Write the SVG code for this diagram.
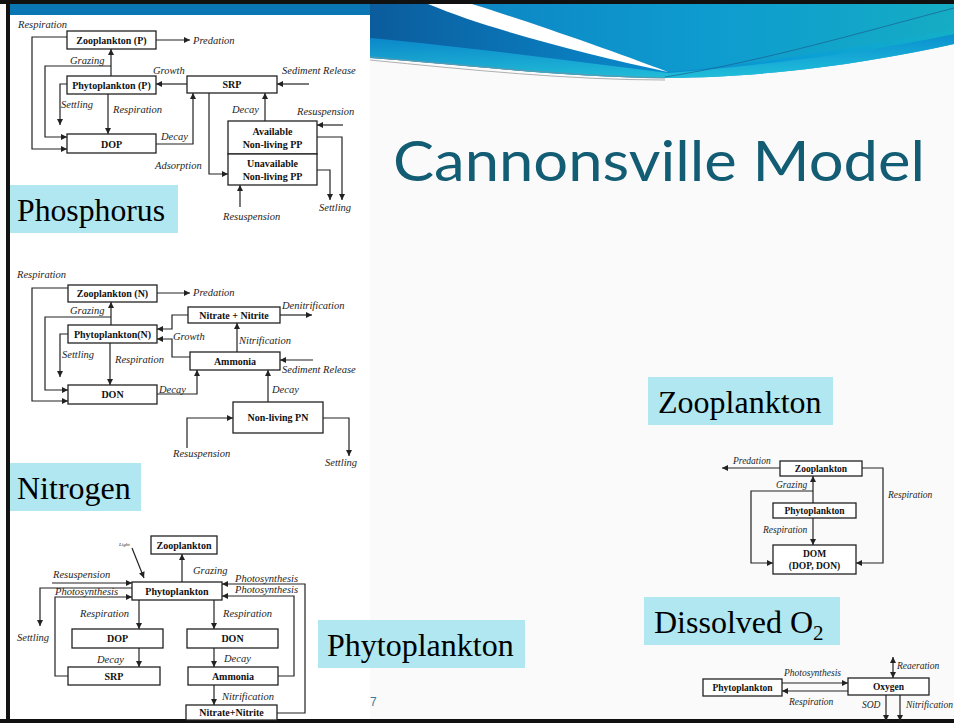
<svg xmlns="http://www.w3.org/2000/svg" width="954" height="723" viewBox="0 0 954 723">
<defs>
<style>
.bx{fill:#fff;stroke:#222;stroke-width:1.3}
.bt{font-family:"Liberation Serif",serif;font-weight:bold;font-size:10px;text-anchor:middle;fill:#111}
.lb{font-family:"Liberation Serif",serif;font-style:italic;font-size:10.5px;fill:#1e1e1e}
.sm{font-size:9.5px}
.cn path{fill:none;stroke:#222;stroke-width:1.2}
.ar{marker-end:url(#ah)}
.sec rect{fill:#b0e7f0}
.sec text{font-family:"Liberation Serif",serif;font-size:32px;fill:#000}
</style>
<marker id="ah" viewBox="0 0 10 10" refX="10" refY="5" markerWidth="7" markerHeight="6" orient="auto-start-reverse" markerUnits="userSpaceOnUse"><path d="M0,0 L10,5 L0,10 z" fill="#222"/></marker>
<linearGradient id="gb" x1="370" y1="0" x2="954" y2="0" gradientUnits="userSpaceOnUse"><stop offset="0" stop-color="#0b5c9c"/><stop offset="0.45" stop-color="#0a86c8"/><stop offset="0.75" stop-color="#0aa0d6"/><stop offset="1" stop-color="#14b0c6"/></linearGradient>
<linearGradient id="gl" x1="0" y1="38" x2="0" y2="78" gradientUnits="userSpaceOnUse"><stop offset="0" stop-color="#0a8fd2"/><stop offset="1" stop-color="#26c6da"/></linearGradient>
<linearGradient id="gt" x1="472" y1="0" x2="954" y2="0" gradientUnits="userSpaceOnUse"><stop offset="0" stop-color="#0d86c4"/><stop offset="0.5" stop-color="#0e9ccf"/><stop offset="1" stop-color="#15acc4"/></linearGradient>
</defs>

<!-- slide background -->
<rect x="0" y="0" width="954" height="723" fill="#fafafa"/>
<rect x="10" y="15" width="360" height="704" fill="#fff"/>

<!-- swoosh -->
<g id="swoosh">
<path d="M370,4 H954 V44 C890,58 790,77 665,78 C565,78 460,64 370,58 Z" fill="url(#gb)"/>
<path d="M370,38 C460,46 560,60 668,73 C780,64 880,50 954,34 V44 C890,58 790,77 665,78 C565,78 460,64 370,58 Z" fill="url(#gl)" opacity="0.85"/>
<path d="M472,4 H954 V30 C880,42 780,62 668,72 C610,50 530,22 472,4 Z" fill="url(#gt)"/>
<path d="M428,4 L472,4 C530,22 610,50 668,72 C590,55 490,30 428,4 Z" fill="#fff"/>
<path d="M665,77 C760,62 870,30 954,8" fill="none" stroke="#1a5f90" stroke-width="1" opacity="0.7"/>
<path d="M370,57 C470,66 570,76 665,78" fill="none" stroke="#5a9ab0" stroke-width="1.2"/>
<path d="M370,60 C470,70 570,80 665,80" fill="none" stroke="#b0b0b0" stroke-width="1"/>
</g>

<!-- frame -->
<rect x="0" y="0" width="954" height="4" fill="#111"/>
<rect x="10" y="4" width="360" height="11" fill="#0a77b4"/>
<rect x="6" y="0" width="4" height="723" fill="#111"/>
<rect x="0" y="719" width="954" height="4" fill="#111"/>

<text id="title" x="393" y="181" font-family="Lato, 'Liberation Sans', sans-serif" font-size="57" fill="#125c74" textLength="532" lengthAdjust="spacingAndGlyphs">Cannonsville Model</text>
<text id="page" x="370" y="706" font-family="'Liberation Sans', sans-serif" font-size="12" fill="#3a7ca0">7</text>

<!-- section labels -->
<g id="sec-phosphorus" class="sec"><rect x="10" y="185" width="168" height="48"/><text x="17" y="221" textLength="148" lengthAdjust="spacingAndGlyphs">Phosphorus</text></g>
<g id="sec-nitrogen" class="sec"><rect x="10" y="463" width="131" height="48"/><text x="17" y="499">Nitrogen</text></g>
<g id="sec-phyto" class="sec"><rect x="318" y="620" width="207" height="48"/><text x="327" y="656">Phytoplankton</text></g>
<g id="sec-zoo" class="sec"><rect x="648" y="377" width="185" height="48"/><text x="658" y="413">Zooplankton</text></g>
<g id="sec-do" class="sec"><rect x="644" y="597" width="196" height="48"/><text x="654" y="633">Dissolved O<tspan font-size="21" dy="7">2</tspan></text></g>

<!-- ===== Phosphorus nodes ===== -->
<g id="p-zoo"><rect class="bx" x="67" y="31" width="89" height="18"/><text class="bt" x="111.5" y="43.5">Zooplankton (P)</text></g>
<g id="p-phy"><rect class="bx" x="67" y="76" width="89" height="18"/><text class="bt" x="111.5" y="88.5">Phytoplankton (P)</text></g>
<g id="p-srp"><rect class="bx" x="187" y="76" width="90" height="17"/><text class="bt" x="232" y="88">SRP</text></g>
<g id="p-dop"><rect class="bx" x="67" y="134" width="89" height="19"/><text class="bt" x="111.5" y="147.5">DOP</text></g>
<g id="p-avail"><rect class="bx" x="228" y="121" width="89" height="33"/><text class="bt" x="272.5" y="135">Available</text><text class="bt" x="272.5" y="148">Non-living PP</text></g>
<g id="p-unavail"><rect class="bx" x="228" y="154" width="89" height="31"/><text class="bt" x="272.5" y="167">Unavailable</text><text class="bt" x="272.5" y="180">Non-living PP</text></g>

<!-- ===== Nitrogen nodes ===== -->
<g id="n-zoo"><rect class="bx" x="68" y="285" width="89" height="17"/><text class="bt" x="112.5" y="297">Zooplankton (N)</text></g>
<g id="n-phy"><rect class="bx" x="68" y="325" width="89" height="18"/><text class="bt" x="112.5" y="337.5">Phytoplankton(N)</text></g>
<g id="n-nitrate"><rect class="bx" x="188" y="307" width="92" height="16"/><text class="bt" x="234" y="318.5">Nitrate + Nitrite</text></g>
<g id="n-amm"><rect class="bx" x="190" y="352" width="90" height="18"/><text class="bt" x="235" y="364.5">Ammonia</text></g>
<g id="n-don"><rect class="bx" x="68" y="385" width="89" height="19"/><text class="bt" x="112.5" y="398">DON</text></g>
<g id="n-pn"><rect class="bx" x="233" y="402" width="90" height="31"/><text class="bt" x="278" y="421">Non-living PN</text></g>

<!-- ===== Phytoplankton nodes ===== -->
<g id="f-zoo"><rect class="bx" x="151" y="536" width="66" height="18"/><text class="bt" x="184" y="548.5">Zooplankton</text></g>
<g id="f-phy"><rect class="bx" x="132" y="582" width="90" height="18"/><text class="bt" x="177" y="594.5">Phytoplankton</text></g>
<g id="f-dop"><rect class="bx" x="72" y="629" width="91" height="19"/><text class="bt" x="117.5" y="642">DOP</text></g>
<g id="f-srp"><rect class="bx" x="68" y="667" width="92" height="18"/><text class="bt" x="114" y="679.5">SRP</text></g>
<g id="f-don"><rect class="bx" x="187" y="629" width="91" height="19"/><text class="bt" x="232.5" y="642">DON</text></g>
<g id="f-amm"><rect class="bx" x="188" y="667" width="90" height="18"/><text class="bt" x="233" y="679.5">Ammonia</text></g>
<g id="f-nit"><rect class="bx" x="186" y="705" width="91" height="15"/><text class="bt" x="231.5" y="716">Nitrate+Nitrite</text></g>

<!-- ===== Zooplankton nodes ===== -->
<g id="z-zoo"><rect class="bx" x="780" y="461" width="82" height="15"/><text class="bt sm" x="821" y="472">Zooplankton</text></g>
<g id="z-phy"><rect class="bx" x="773" y="503" width="83" height="15"/><text class="bt sm" x="814.5" y="514">Phytoplankton</text></g>
<g id="z-dom"><rect class="bx" x="773" y="545" width="83" height="29"/><text class="bt sm" x="814.5" y="557">DOM</text><text class="bt sm" x="814.5" y="569">(DOP, DON)</text></g>

<!-- ===== Dissolved O2 nodes ===== -->
<g id="o-phy"><rect class="bx" x="703" y="679" width="79" height="17"/><text class="bt sm" x="742.5" y="691">Phytoplankton</text></g>
<g id="o-oxy"><rect class="bx" x="848" y="678" width="81" height="17"/><text class="bt sm" x="888.5" y="690">Oxygen</text></g>

<!-- ===== connectors ===== -->
<g id="connectors" class="cn">
<!-- phosphorus -->
<path class="ar" d="M156,40 H190"/>
<path class="ar" d="M67,37 H32 V149 H67"/>
<path class="ar" d="M111,76 V49"/>
<path class="ar" d="M111,66 H45 V137 H67"/>
<path class="ar" d="M187,84 H156"/>
<path class="ar" d="M67,84 H60 V125"/>
<path class="ar" d="M108,94 V134"/>
<path class="ar" d="M156,144 H193 V93"/>
<path class="ar" d="M209,93 V174 H228"/>
<path class="ar" d="M265,121 V93"/>
<path class="ar" d="M309,84 H277"/>
<path class="ar" d="M343,125 H317"/>
<path class="ar" d="M317,137 H342 V200"/>
<path class="ar" d="M317,170 H330 V200"/>
<path class="ar" d="M240,207 V185"/>
<!-- nitrogen -->
<path class="ar" d="M157,293 H190"/>
<path class="ar" d="M68,288 H32 V401 H68"/>
<path class="ar" d="M111,325 V302"/>
<path class="ar" d="M111,317 H45 V390 H68"/>
<path class="ar" d="M68,334 H60 V377"/>
<path class="ar" d="M110,343 V385"/>
<path class="ar" d="M188,315 H172 V329 H157"/>
<path class="ar" d="M190,357 H172 V339 H157"/>
<path class="ar" d="M237,352 V323"/>
<path class="ar" d="M280,315 H312"/>
<path class="ar" d="M313,360 H280"/>
<path class="ar" d="M157,394 H197 V370"/>
<path class="ar" d="M268,402 V370"/>
<path class="ar" d="M187,448 V418 H233"/>
<path class="ar" d="M323,418 H349 V456"/>
<!-- phytoplankton -->
<path class="ar" d="M182,582 V554"/>
<path class="ar" d="M132,548 L144,578"/>
<path class="ar" d="M52,583 H132"/>
<path class="ar" d="M132,588 H40 V626"/>
<path class="ar" d="M68,676 H55 V597 H132"/>
<path class="ar" d="M139,600 V629"/>
<path class="ar" d="M139,648 V667"/>
<path class="ar" d="M214,600 V629"/>
<path class="ar" d="M214,648 V667"/>
<path class="ar" d="M214,685 V705"/>
<path class="ar" d="M278,676 H294 V596 H222"/>
<path class="ar" d="M277,713 H305 V584 H222"/>
<!-- zooplankton -->
<path class="ar" d="M780,468 H722"/>
<path class="ar" d="M813,503 V476"/>
<path class="ar" d="M813,491 H751 V563 H773"/>
<path class="ar" d="M813,518 V545"/>
<path class="ar" d="M862,468 H883 V563 H856"/>
<!-- dissolved O2 -->
<path class="ar" d="M782,683 H848"/>
<path class="ar" d="M848,691 H782"/>
<path class="ar" d="M893,678 V657" marker-start="url(#ah)"/>
<path class="ar" d="M886,695 V721"/>
<path class="ar" d="M900,695 V721"/>
</g>

<!-- connector labels -->
<g id="labels">
<text class="lb" x="193" y="44">Predation</text>
<text class="lb" x="18" y="28">Respiration</text>
<text class="lb" x="70" y="64">Grazing</text>
<text class="lb" x="153" y="74">Growth</text>
<text class="lb" x="61" y="108">Settling</text>
<text class="lb" x="113" y="113">Respiration</text>
<text class="lb" x="161" y="140">Decay</text>
<text class="lb" x="155" y="169">Adsorption</text>
<text class="lb" x="232" y="113">Decay</text>
<text class="lb" x="282" y="74">Sediment Release</text>
<text class="lb" x="297" y="115">Resuspension</text>
<text class="lb" x="319" y="211">Settling</text>
<text class="lb" x="223" y="220">Resuspension</text>

<text class="lb" x="193" y="296">Predation</text>
<text class="lb" x="17" y="278">Respiration</text>
<text class="lb" x="70" y="314">Grazing</text>
<text class="lb" x="62" y="358">Settling</text>
<text class="lb" x="115" y="363">Respiration</text>
<text class="lb" x="173" y="340">Growth</text>
<text class="lb" x="239" y="344">Nitrification</text>
<text class="lb" x="282" y="309">Denitrification</text>
<text class="lb" x="282" y="373">Sediment Release</text>
<text class="lb" x="159" y="393">Decay</text>
<text class="lb" x="272" y="393">Decay</text>
<text class="lb" x="173" y="457">Resuspension</text>
<text class="lb" x="325" y="466">Settling</text>

<text class="lb" x="193" y="574">Grazing</text>
<text class="lb" x="119" y="546" style="font-size:5px">Light</text>
<text class="lb" x="53" y="578">Resuspension</text>
<text class="lb" x="17" y="641">Settling</text>
<text class="lb" x="55" y="595">Photosynthesis</text>
<text class="lb" x="80" y="617">Respiration</text>
<text class="lb" x="97" y="663">Decay</text>
<text class="lb" x="223" y="617">Respiration</text>
<text class="lb" x="224" y="662">Decay</text>
<text class="lb" x="222" y="700">Nitrification</text>
<text class="lb" x="235" y="593">Photosynthesis</text>
<text class="lb" x="235" y="582">Photosynthesis</text>

<text class="lb sm" x="733" y="464">Predation</text>
<text class="lb sm" x="776" y="488">Grazing</text>
<text class="lb sm" x="763" y="533">Respiration</text>
<text class="lb sm" x="888" y="498">Respiration</text>

<text class="lb sm" x="784" y="676">Photosynthesis</text>
<text class="lb sm" x="789" y="705">Respiration</text>
<text class="lb sm" x="897" y="669">Reaeration</text>
<text class="lb sm" x="862" y="708">SOD</text>
<text class="lb sm" x="906" y="708">Nitrification</text>
</g>
</svg>
